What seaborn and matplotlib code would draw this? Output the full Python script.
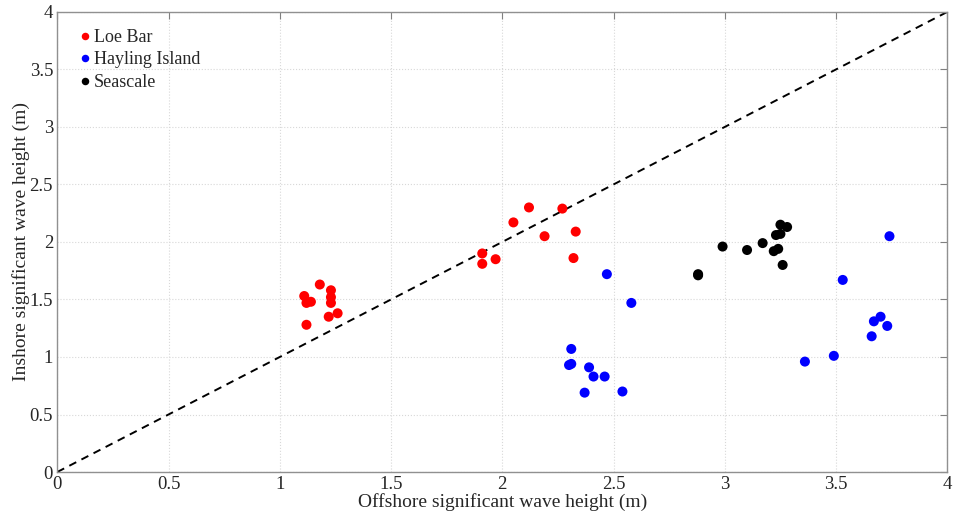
import matplotlib
matplotlib.use("Agg")
import matplotlib.pyplot as plt
import numpy as np
import pandas as pd
import seaborn as sns

# Offshore vs inshore significant wave height (m)
loe_bar_x = [1.18, 1.23, 1.11, 1.23, 1.14, 1.12, 1.23, 1.26, 1.22, 1.12,
             2.12, 2.27, 2.05, 2.19, 2.33, 1.91, 1.91, 1.97, 2.32]
loe_bar_y = [1.63, 1.58, 1.53, 1.52, 1.48, 1.47, 1.47, 1.38, 1.35, 1.28,
             2.30, 2.29, 2.17, 2.05, 2.09, 1.90, 1.81, 1.85, 1.86]

hayling_x = [2.47, 2.58, 2.31, 2.30, 2.31, 2.39, 2.41, 2.46, 2.37, 2.54,
             3.74, 3.53, 3.67, 3.70, 3.73, 3.66, 3.49, 3.36]
hayling_y = [1.72, 1.47, 1.07, 0.93, 0.94, 0.91, 0.83, 0.83, 0.69, 0.70,
             2.05, 1.67, 1.31, 1.35, 1.27, 1.18, 1.01, 0.96]

seascale_x = [3.25, 3.28, 3.23, 3.25, 2.99, 3.17, 3.10, 3.22, 3.24, 3.26, 2.88, 2.88]
seascale_y = [2.15, 2.13, 2.06, 2.07, 1.96, 1.99, 1.93, 1.92, 1.94, 1.80, 1.72, 1.71]

sites = ["Loe Bar", "Hayling Island", "Seascale"]
colors = ["#ff0000", "#0000ff", "#000000"]
tick_labels = ["0", "0.5", "1", "1.5", "2", "2.5", "3", "3.5", "4"]

df = pd.DataFrame({
    "offshore": loe_bar_x + hayling_x + seascale_x,
    "inshore": loe_bar_y + hayling_y + seascale_y,
    "site": ["Loe Bar"] * len(loe_bar_x) + ["Hayling Island"] * len(hayling_x)
            + ["Seascale"] * len(seascale_x),
})

sns.set_style("white")
plt.rcParams["font.family"] = ["Liberation Serif", "DejaVu Serif"]

fig = plt.figure(figsize=(9.54, 5.17), dpi=100)
ax = fig.add_axes([0.06, 0.087, 0.933, 0.89])

# 1:1 line
ax.plot([0, 4], [0, 4], "k--", linewidth=1.4, dashes=(4, 3), zorder=1)

sns.scatterplot(data=df, x="offshore", y="inshore", hue="site",
                hue_order=sites, palette=dict(zip(sites, colors)),
                s=52, edgecolor="none", ax=ax, zorder=3)

ax.set_xlim(0, 4)
ax.set_ylim(0, 4)
ax.set_xticks(np.arange(0, 4.01, 0.5))
ax.set_yticks(np.arange(0, 4.01, 0.5))
ax.set_xticklabels(tick_labels)
ax.set_yticklabels(tick_labels)
ax.grid(True, linestyle=":", color="#d8d8d8", linewidth=0.8)
ax.tick_params(direction="in", length=5, color="#808080", labelsize=13.5,
               top=True, right=True, pad=3)
for side in ["left", "bottom", "top", "right"]:
    ax.spines[side].set_color("#909090")
    ax.spines[side].set_linewidth(1.0)

ax.set_xlabel("Offshore significant wave height (m)", fontsize=14, labelpad=0)
ax.set_ylabel("Inshore significant wave height (m)", fontsize=14, labelpad=0)

leg = ax.legend(loc="upper left", bbox_to_anchor=(0.008, 0.998), frameon=False,
                fontsize=13, handlelength=0.5, handletextpad=0.25,
                labelspacing=0.3, borderaxespad=0.5, markerscale=0.75)

fig.savefig("out.png", dpi=100)
plt.close(fig)
